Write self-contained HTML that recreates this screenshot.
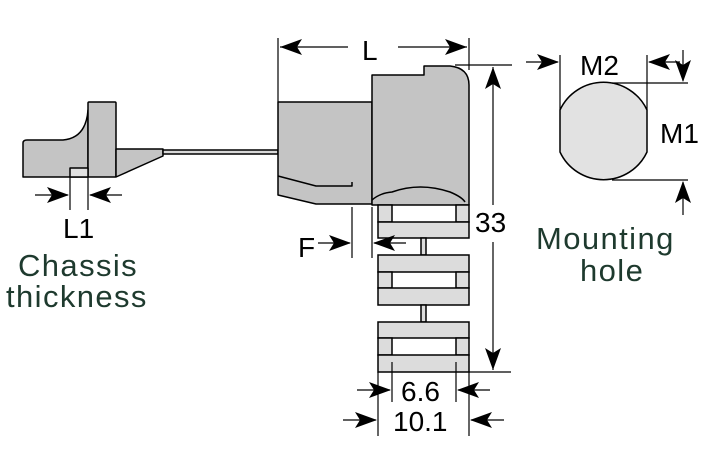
<!DOCTYPE html>
<html><head><meta charset="utf-8"><style>
html,body{margin:0;padding:0;background:#fff;}
svg{display:block;}
text{font-family:"Liberation Sans","DejaVu Sans",sans-serif;}
</style></head><body>
<svg id="s" width="709" height="472" viewBox="0 0 709 472" xmlns="http://www.w3.org/2000/svg">
<g stroke="#000" stroke-width="1.5" fill="#c4c4c4" stroke-linejoin="round">
<path d="M23,143 Q23,140 27,140 L63,140 Q86,138 88,110 L88,177 L23,177 Z"/>
<rect x="88" y="102" width="28" height="75" rx="1"/>
<path d="M116,149 L163,149 L163,156 L116,177 Z"/>
<rect x="70" y="168" width="18" height="9" fill="#e0e0e0"/>
<rect x="163" y="150" width="115" height="4" fill="#d8d8d8"/>
<path d="M278,102 L372,102 L372,204 L352,204 L352,204 L316,204 L278,195 Z"/>
<path d="M278,176 L316,186 L352,186 L352,182" fill="none"/>
<path d="M372,75 L424,75 L424,66 L450,66 Q469,68 469,85 L469,205 L372,205 Z"/>
<path d="M372,200 Q380,193 392,192 Q420,182 450,192 Q462,197 465,202" fill="none"/>
</g>
<g stroke="#000" stroke-width="1.5" fill="#dcdcdc">
<rect x="378" y="205" width="14" height="17"/><rect x="456" y="205" width="13" height="17"/>
<rect x="378" y="222" width="91" height="16"/>
<rect x="421" y="238" width="5" height="17"/>
<rect x="378" y="255" width="91" height="17"/>
<rect x="378" y="272" width="14" height="16"/><rect x="456" y="272" width="13" height="16"/>
<rect x="378" y="288" width="91" height="17"/>
<rect x="421" y="305" width="5" height="17"/>
<rect x="378" y="322" width="91" height="16"/>
<rect x="378" y="338" width="14" height="17"/><rect x="456" y="338" width="13" height="17"/>
<rect x="378" y="355" width="91" height="17"/>
</g>
<path d="M560,110 A48,48 0 0 1 647,110 L647,152 A48,48 0 0 1 560,152 Z" fill="#e2e2e2" stroke="#000" stroke-width="1.5"/>
<g stroke="#000" stroke-width="1.2" fill="none">
<line x1="278" y1="38" x2="278" y2="102"/><line x1="469" y1="38" x2="469" y2="70"/>
<line x1="280" y1="47" x2="348" y2="47"/>
<line x1="398" y1="47" x2="467" y2="47"/>
<line x1="455" y1="65" x2="512" y2="65"/><line x1="469" y1="372" x2="511" y2="372"/>
<line x1="493" y1="67" x2="493" y2="205"/>
<line x1="493" y1="242" x2="493" y2="370"/>
<line x1="352" y1="207" x2="352" y2="258"/><line x1="372" y1="207" x2="372" y2="258"/>
<line x1="318" y1="243" x2="350" y2="243"/>
<line x1="374" y1="243" x2="406" y2="243"/>
<line x1="70" y1="177" x2="70" y2="210"/><line x1="88" y1="177" x2="88" y2="210"/>
<line x1="35" y1="195" x2="68" y2="195"/>
<line x1="90" y1="195" x2="122" y2="195"/>
<line x1="392" y1="362" x2="392" y2="402"/><line x1="456" y1="362" x2="456" y2="402"/>
<line x1="378" y1="372" x2="378" y2="436"/><line x1="469" y1="372" x2="469" y2="436"/>
<line x1="357" y1="390" x2="390" y2="390"/>
<line x1="458" y1="390" x2="490" y2="390"/>
<line x1="343" y1="420" x2="376" y2="420"/>
<line x1="471" y1="420" x2="504" y2="420"/>
<line x1="560" y1="55" x2="560" y2="110"/><line x1="647" y1="55" x2="647" y2="110"/>
<line x1="526" y1="62" x2="558" y2="62"/>
<line x1="649" y1="62" x2="680" y2="62"/>
<line x1="612" y1="83" x2="688" y2="83"/><line x1="612" y1="180" x2="688" y2="180"/>
<line x1="683" y1="50" x2="683" y2="81"/>
<line x1="683" y1="182" x2="683" y2="215"/>
</g>
<g fill="#000">
<!-- arrowheads: tip, length 22, halfwidth 8 -->
<polygon points="280,47 302,39 297,47 302,55"/>
<polygon points="467,47 445,39 450,47 445,55"/>
<polygon points="493,67 485,89 493,84 501,89"/>
<polygon points="493,370 485,348 493,353 501,348"/>
<polygon points="351,243 329,235 334,243 329,251"/>
<polygon points="373,243 395,235 390,243 395,251"/>
<polygon points="69,195 47,187 52,195 47,203"/>
<polygon points="89,195 111,187 106,195 111,203"/>
<polygon points="391,390 369,382 374,390 369,398"/>
<polygon points="457,390 479,382 474,390 479,398"/>
<polygon points="377,420 355,412 360,420 355,428"/>
<polygon points="470,420 492,412 487,420 492,428"/>
<polygon points="559,62 537,54 542,62 537,70"/>
<polygon points="648,62 670,54 665,62 670,70"/>
<polygon points="683,82 675,60 683,65 691,60"/>
<polygon points="683,181 675,203 683,198 691,203"/>
</g>
<g font-size="28" fill="#000">
<text x="362" y="60">L</text>
<text x="475" y="232">33</text>
<text x="298" y="257">F</text>
<text x="63" y="238">L1</text>
<text x="401" y="401">6.6</text>
<text x="393" y="431">10.1</text>
<text x="580" y="75">M2</text>
<text x="660" y="143">M1</text>
</g>
<g font-size="31" fill="#1e3a2e" letter-spacing="1.4">
<text x="18" y="276">Chassis</text>
<text x="6" y="307">thickness</text>
<text x="536" y="249">Mounting</text>
<text x="580" y="281">hole</text>
</g>
</svg>
</body></html>
